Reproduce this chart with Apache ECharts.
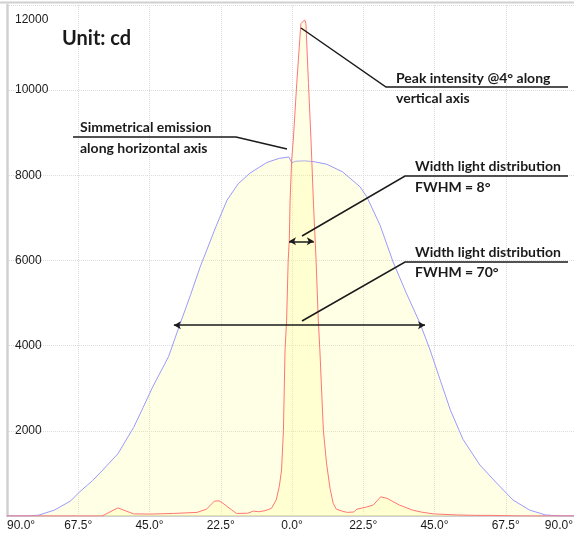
<!DOCTYPE html>
<html>
<head>
<meta charset="utf-8">
<script src="https://cdn.jsdelivr.net/npm/echarts@6/dist/echarts.min.js"></script>
<style>
  html, body { margin: 0; padding: 0; background: #ffffff; }
  #chart { width: 574px; height: 537px; }
</style>
</head>
<body>
<div id="chart"></div>
<script>
// Horizontal-axis emission profile (angle in degrees, intensity in cd)
var hAngles = [-90, -84, -80, -75, -70, -67, -63, -60, -55, -50, -47, -44, -39, -35.5, -32, -29, -24, -20.5, -17, -13.3, -8, -4, -1, 0, 1, 4, 7, 11, 16, 21.5, 23.6, 27.8, 31.9, 36, 40.4, 43.6, 47, 50, 54, 59.3, 64.6, 69.8, 75, 80, 85, 90];
var hValues = [0, 0, 20, 140, 350, 570, 830, 1060, 1460, 2080, 2550, 3030, 3740, 4480, 5200, 5850, 6800, 7420, 7800, 8050, 8300, 8400, 8430, 8290, 8330, 8340, 8320, 8260, 8080, 7730, 7500, 6830, 5970, 5250, 4530, 3900, 3150, 2490, 1800, 1200, 775, 375, 140, 25, 0, 0];

// Vertical-axis emission profile (angle in degrees, intensity in cd)
var vAngles = [-90, -60, -55, -50, -45, -37.5, -30, -27, -24.5, -23, -22, -19, -17.5, -14, -12.2, -10.5, -8.5, -6.5, -5, -4, -3.3, -2.7, -2.2, -1.7, -1.2, -0.85, -0.6, -0.1, 0.4, 1.5, 2.8, 4, 4.4, 5.2, 6, 6.8, 7.6, 8.3, 8.8, 9.9, 10.9, 12, 13, 14, 16, 17.5, 19.5, 20.5, 23.5, 25.7, 28, 30, 34, 38, 41, 44.6, 52, 58, 62.5, 73, 90];
var vValues = [0, 0, 190, 50, 45, 60, 85, 160, 350, 355, 310, 140, 60, 65, 115, 100, 125, 180, 375, 700, 1080, 2020, 3900, 4600, 6010, 6480, 7420, 8360, 8830, 10160, 11560, 11650, 11560, 10160, 8830, 7300, 6010, 4600, 3900, 2020, 1240, 650, 300, 160, 110, 85, 95, 160, 210, 260, 450, 415, 255, 140, 90, 50, 25, 15, 15, 0, 0];

// Axis ticks
var angleTicks = [-90, -67.5, -45, -22.5, 0, 22.5, 45, 67.5, 90];
var intensityTicks = [0, 2000, 4000, 6000, 8000, 10000, 12000];

// Full-width-at-half-maximum spans: [start angle, end angle, intensity]
var fwhmWide = [-37.3, 42, 4480];
var fwhmNarrow = [-0.95, 6.9, 6450];

function pairs(xs, ys) {
  return xs.map(function (x, i) { return [x, ys[i]]; });
}

var chart = echarts.init(document.getElementById('chart'), null, { renderer: 'canvas' });

var textFont = 'bold 14px Lato, "Open Sans", sans-serif';
var ink = '#1a1a1a';
var tickFont = '"Liberation Sans", Arial, sans-serif';

function note(text, x, y) {
  return {
    type: 'text', x: x, y: y, silent: true, z: 100,
    style: { text: text, font: textFont, fill: ink, align: 'left', verticalAlign: 'middle' }
  };
}
function leader(points) {
  return {
    type: 'polyline', silent: true, z: 100,
    shape: { points: points },
    style: { stroke: ink, lineWidth: 1.5, fill: null }
  };
}

var option = {
  animation: false,
  backgroundColor: '#ffffff',
  grid: { left: 7, right: -3, top: 5, bottom: 21, containLabel: false, outerBoundsMode: 'none' },
  xAxis: {
    type: 'value',
    min: angleTicks[0],
    max: angleTicks[angleTicks.length - 1],
    interval: angleTicks[1] - angleTicks[0],
    axisLine: { show: true, onZero: false, lineStyle: { color: '#d0d0d0', width: 2 } },
    axisTick: { show: false },
    splitLine: { show: true, lineStyle: { color: '#dcdcdc', type: 'dotted', width: 1 } },
    axisLabel: {
      margin: 4,
      color: ink,
      fontSize: 12,
      fontFamily: tickFont,
      alignMinLabel: 'left',
      alignMaxLabel: 'right',
      formatter: function (v) {
        var s = Math.abs(v).toFixed(1) + '°';
        return v === angleTicks[angleTicks.length - 1] ? '{e|' + s + '}' : s;
      },
      rich: {
        e: { padding: [0, 4, 0, 0], fontSize: 12, color: ink, fontFamily: tickFont }
      }
    }
  },
  yAxis: {
    type: 'value',
    min: intensityTicks[0],
    max: intensityTicks[intensityTicks.length - 1],
    interval: intensityTicks[1] - intensityTicks[0],
    axisLine: { show: true, onZero: false, lineStyle: { color: '#d0d0d0', width: 2.5 } },
    axisTick: { show: false },
    splitLine: { show: true, lineStyle: { color: '#dcdcdc', type: 'dotted', width: 1 } },
    axisLabel: {
      inside: true,
      margin: 8,
      showMinLabel: false,
      color: ink,
      fontSize: 12,
      fontFamily: tickFont,
      formatter: function (v) {
        return v === intensityTicks[intensityTicks.length - 1] ? '{t|' + v + '}' : String(v);
      },
      rich: {
        t: { padding: [30, 0, 0, 0], fontSize: 12, color: ink, fontFamily: tickFont }
      }
    }
  },
  series: [
    {
      name: 'Horizontal',
      type: 'line',
      data: pairs(hAngles, hValues),
      showSymbol: false,
      symbol: 'none',
      smooth: false,
      z: 2,
      lineStyle: { color: '#9a9aff', width: 1 },
      areaStyle: { color: 'rgba(255,255,120,0.27)' },
      markLine: {
        silent: true,
        symbol: ['arrow', 'arrow'],
        symbolSize: [6, 7],
        label: { show: false },
        lineStyle: { color: ink, width: 1.5, type: 'solid' },
        data: [
          [{ coord: [fwhmWide[0], fwhmWide[2]] }, { coord: [fwhmWide[1], fwhmWide[2]] }],
          [{ coord: [fwhmNarrow[0], fwhmNarrow[2]] }, { coord: [fwhmNarrow[1], fwhmNarrow[2]] }]
        ]
      }
    },
    {
      name: 'Vertical',
      type: 'line',
      data: pairs(vAngles, vValues),
      showSymbol: false,
      symbol: 'none',
      smooth: false,
      z: 3,
      lineStyle: { color: '#ff7575', width: 1 },
      areaStyle: { color: 'rgba(255,255,120,0.27)' }
    }
  ],
  graphic: [
    {
      type: 'line', silent: true, z: 100,
      shape: { x1: 0, y1: 2.5, x2: 574, y2: 2.5 },
      style: { stroke: '#d0d0d0', lineWidth: 2 }
    },
    {
      type: 'text', x: 62, y: 39, silent: true, z: 100,
      style: { text: 'Unit: cd', font: 'bold 20px Lato, "Open Sans", sans-serif', fill: ink, align: 'left', verticalAlign: 'middle' }
    },
    note('Simmetrical emission', 80, 127),
    note('along horizontal axis', 80, 148),
    leader([[73, 137], [236, 137], [287, 149]]),
    note('Peak intensity @4° along', 396, 78),
    note('vertical axis', 396, 98),
    leader([[568, 87], [386, 87], [301, 28]]),
    note('Width light distribution', 415, 166),
    note('FWHM = 8°', 415, 187),
    leader([[568, 176], [405, 176], [302, 236]]),
    note('Width light distribution', 415, 252),
    note('FWHM = 70°', 415, 272),
    leader([[568, 262], [405, 262], [302, 321]])
  ]
};

chart.setOption(option);
</script>
</body>
</html>
